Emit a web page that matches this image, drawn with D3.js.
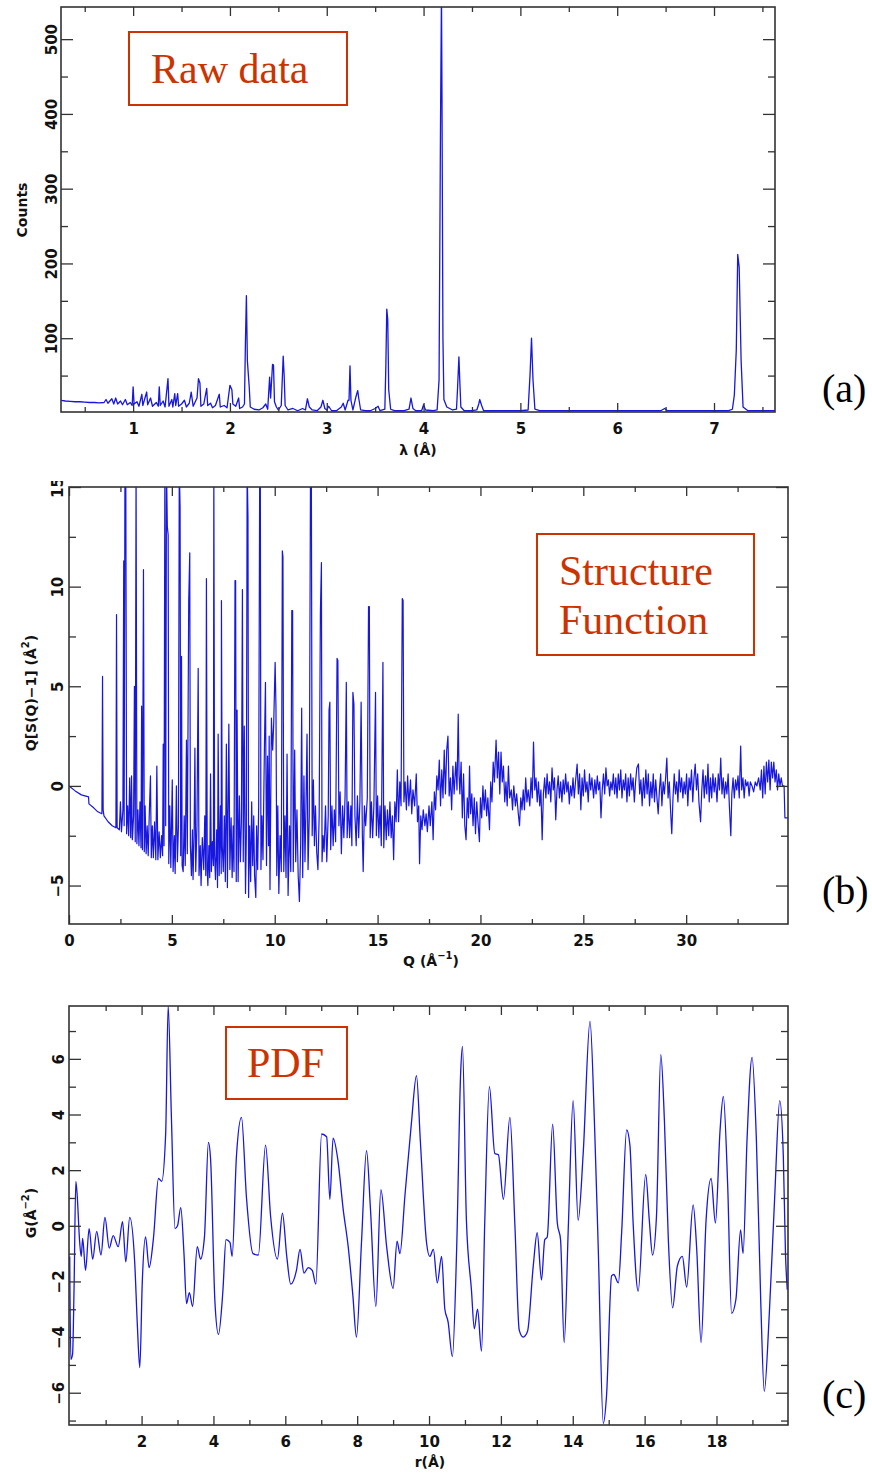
<!DOCTYPE html>
<html>
<head>
<meta charset="utf-8">
<script src="https://cdn.jsdelivr.net/npm/d3@7"></script>
<style>
  body { margin: 0; background: #fff; }
  svg { display: block; }
</style>
</head>
<body>
<svg width="872" height="1473"></svg>
<script>
// (a) raw counts vs wavelength, [lambda, counts]
var rawData = [
  [0.25,17],[0.3,16],[0.35,15.5],[0.4,15],[0.45,15],[0.5,14.5],[0.55,14],[0.6,14],[0.65,13.5],[0.7,14],
  [0.72,18],[0.74,13],[0.78,19],[0.8,12],[0.82,20],[0.84,12],[0.87,16],[0.89,11],[0.92,18],[0.94,11],
  [0.97,14],[0.99,10],[1.0,35],[1.01,12],[1.04,15],[1.06,9],[1.09,25],[1.1,10],[1.14,28],[1.15,11],
  [1.18,20],[1.2,9],[1.24,14],[1.26,9],[1.27,35],[1.28,10],[1.31,16],[1.33,8],[1.36,46],[1.37,9],
  [1.4,18],[1.41,8],[1.43,26],[1.44,10],[1.46,26],[1.47,9],[1.5,12],[1.53,17],[1.55,8],[1.58,13],
  [1.6,28],[1.62,9],[1.66,20],[1.675,46],[1.69,40],[1.7,9],[1.73,12],[1.76,33],[1.77,10],[1.8,13],
  [1.82,7],[1.85,10],[1.89,25],[1.9,8],[1.94,10],[1.97,7],[2.0,37],[2.02,31],[2.03,12],[2.06,9],
  [2.09,20],[2.1,6],[2.13,8],[2.15,12],[2.16,95],[2.17,157],[2.18,70],[2.2,33],[2.21,8],[2.25,5],
  [2.3,4],[2.34,7],[2.37,12],[2.39,5],[2.41,48],[2.42,20],[2.44,65],[2.45,64],[2.46,15],[2.48,8],
  [2.5,4],[2.53,10],[2.55,76],[2.56,50],[2.57,10],[2.6,4],[2.65,6],[2.7,3],[2.75,6],[2.78,4],
  [2.8,19],[2.82,8],[2.85,4],[2.9,3],[2.94,8],[2.96,17],[2.98,6],[3.0,4],[3.02,9],[3.05,3],
  [3.1,3],[3.15,8],[3.17,13],[3.19,4],[3.22,17],[3.23,17],[3.24,63],[3.25,17],[3.27,4],[3.3,21],
  [3.32,30],[3.33,20],[3.35,4],[3.4,3],[3.45,3],[3.5,6],[3.53,9],[3.55,3],[3.6,5],[3.61,60],
  [3.62,139],[3.63,125],[3.64,31],[3.66,5],[3.7,3],[3.75,3],[3.8,3],[3.85,5],[3.87,20],[3.89,6],
  [3.92,3],[3.98,3],[4.0,11],[4.02,4],[4.1,3],[4.14,4],[4.16,44],[4.175,387],[4.185,560],[4.19,426],
  [4.2,100],[4.21,18],[4.24,8],[4.3,4],[4.34,5],[4.35,30],[4.365,75],[4.375,40],[4.385,8],[4.42,3],
  [4.5,3],[4.55,4],[4.57,12],[4.58,18],[4.6,10],[4.62,3],[4.7,3],[4.85,3],[5.0,3],[5.08,4],
  [5.1,52],[5.115,100],[5.13,45],[5.15,5],[5.2,3],[5.5,3],[6.0,3],[6.45,3],[6.49,6],[6.52,3],
  [7.0,3],[7.15,3],[7.19,5],[7.21,24],[7.23,84],[7.245,212],[7.26,195],[7.28,70],[7.3,8],[7.35,3],
  [7.63,3]
];

// (b) Q[S(Q)-1] vs Q, [Q, value]
var sqData = [
  [0,0],[0.3,-0.25],[0.6,-0.45],[0.95,-0.55],[0.97,-0.9],[1.2,-1.1],[1.4,-1.3],[1.6,-1.4],[1.63,5.5],[1.66,-1.2],
  [1.7,-1.5],[1.9,-1.8],[2.1,-2.0],[2.28,-2.1],[2.31,8.6],[2.34,-2.1],[2.45,-2.2],[2.5,-0.8],[2.55,-2.3],[2.62,-1.2],
  [2.66,11.3],[2.68,-2.0],[2.72,16],[2.76,16],[2.8,-2.4],[2.85,-1.0],[2.9,-2.5],[2.95,0.4],[3.0,-2.6],[3.04,0.5],
  [3.08,-2.7],[3.14,-1.5],[3.18,5.0],[3.22,-2.8],[3.26,16],[3.3,-2.9],[3.35,-1.2],[3.4,-3.0],[3.45,-0.8],[3.5,-3.1],
  [3.53,4.0],[3.57,-3.2],[3.62,10.85],[3.66,-3.3],[3.7,-1.0],[3.75,-3.4],[3.8,-2.0],[3.85,-3.5],[3.9,-1.5],[3.96,0.5],
  [4.0,-3.6],[4.05,-2.0],[4.1,-3.6],[4.16,-1.8],[4.22,-3.7],[4.27,1.0],[4.32,-3.7],[4.38,-2.3],[4.44,-3.6],[4.5,-2.5],
  [4.55,-3.5],[4.58,2.1],[4.62,-3.0],[4.66,16],[4.7,-2.0],[4.74,16],[4.78,13],[4.82,12.6],[4.85,-3.9],[4.9,-1.0],
  [4.95,-4.1],[5.02,0.3],[5.06,-4.3],[5.12,-2.5],[5.16,-4.4],[5.22,0],[5.27,-3.8],[5.32,-2.0],[5.36,16],[5.4,14],
  [5.43,-3.5],[5.47,6.5],[5.5,-4.0],[5.55,-4.3],[5.6,-1.5],[5.65,-4.0],[5.71,2.3],[5.75,-3.4],[5.82,9.3],[5.87,11.7],
  [5.9,-3.0],[5.95,-4.5],[6.0,-2.2],[6.03,-4.7],[6.08,-2.5],[6.12,1.9],[6.16,-4.3],[6.22,-2.0],[6.28,5.9],[6.32,-4.5],
  [6.38,-3.0],[6.42,-5.0],[6.48,-2.6],[6.55,-4.2],[6.6,-1.5],[6.65,-4.5],[6.68,10.4],[6.72,-4.2],[6.75,-5.0],[6.8,-3.0],
  [6.84,-4.6],[6.88,0.6],[6.92,-4.3],[6.97,-2.8],[7.02,-4.0],[7.04,16],[7.08,-3.5],[7.12,-4.7],[7.18,-2.2],[7.22,-5.1],
  [7.25,2.6],[7.3,-4.5],[7.36,-1.0],[7.4,-4.4],[7.41,9.3],[7.45,-3.0],[7.5,-4.3],[7.55,-1.5],[7.6,-4.8],[7.65,2.1],
  [7.7,-5.1],[7.77,3.1],[7.82,-4.2],[7.88,-1.6],[7.93,-4.6],[7.98,-2.0],[8.02,-4.3],[8.07,10.3],[8.1,10.3],[8.13,-4.8],
  [8.17,3.8],[8.22,-4.8],[8.28,-0.5],[8.33,-3.8],[8.38,-1.8],[8.43,9.85],[8.47,-3.8],[8.52,3.0],[8.58,-5.4],[8.62,-2.5],
  [8.66,16],[8.7,13.5],[8.73,-5.6],[8.78,-2.0],[8.83,-4.8],[8.88,-0.8],[8.93,-4.0],[8.98,-1.5],[9.02,-4.5],[9.08,-5.6],
  [9.12,-2.0],[9.17,-4.2],[9.22,-1.0],[9.27,16],[9.3,16],[9.33,-4.2],[9.38,-1.5],[9.43,-3.7],[9.5,2.0],[9.55,5.2],
  [9.6,-4.0],[9.65,1.5],[9.7,-3.0],[9.73,2.5],[9.77,-5.2],[9.84,3.4],[9.9,1.8],[9.95,3.1],[10.02,6.2],[10.06,4.0],
  [10.1,-4.5],[10.15,-1.0],[10.2,-5.4],[10.26,-2.5],[10.32,-4.3],[10.37,11.8],[10.4,11.5],[10.44,-4.3],[10.5,-1.5],[10.55,-4.6],
  [10.6,1.6],[10.65,-5.5],[10.72,-2.0],[10.78,-4.3],[10.83,8.8],[10.87,8.8],[10.9,-4.3],[10.97,1.8],[11.02,-3.8],[11.08,-1.2],
  [11.14,-4.5],[11.2,-5.8],[11.26,-3.0],[11.31,3.9],[11.36,-4.6],[11.42,0.5],[11.47,-3.8],[11.52,-1.0],[11.57,2.6],[11.62,-4.2],
  [11.68,-1.5],[11.74,16],[11.78,16],[11.82,-2.5],[11.88,0.3],[11.93,-3.0],[11.98,-1.0],[12.04,-3.3],[12.1,-4.2],[12.16,-1.5],
  [12.22,8.7],[12.27,11.2],[12.3,-3.8],[12.35,-2.5],[12.4,-3.3],[12.47,-1.0],[12.53,-3.8],[12.6,-1.5],[12.64,3.8],[12.68,4.2],
  [12.72,-3.2],[12.78,-1.0],[12.84,-3.0],[12.9,-1.2],[12.96,-2.8],[13.03,6.4],[13.07,6.3],[13.12,-2.0],[13.18,-0.3],[13.24,-3.4],
  [13.3,-1.0],[13.36,-2.6],[13.42,-0.5],[13.48,5.2],[13.52,-2.6],[13.58,-0.8],[13.64,-2.6],[13.7,-1.0],[13.75,-3.0],[13.8,4.7],
  [13.85,4.1],[13.9,-1.5],[13.96,-3.0],[14.02,-0.5],[14.08,-2.6],[14.14,-0.8],[14.2,4.2],[14.26,-2.5],[14.3,-4.3],[14.36,-1.0],
  [14.42,-2.0],[14.5,-0.6],[14.56,9.0],[14.6,9.0],[14.64,-2.6],[14.7,-0.8],[14.76,-2.6],[14.82,-1.0],[14.9,4.7],[14.94,-2.5],
  [15.0,-0.5],[15.06,-2.6],[15.12,-1.0],[15.18,-3.0],[15.26,6.2],[15.3,-3.1],[15.36,-1.0],[15.42,-2.7],[15.48,-1.2],[15.54,-2.5],
  [15.6,-0.8],[15.66,-2.6],[15.72,-1.5],[15.78,-3.7],[15.84,-0.8],[15.9,-1.8],[15.96,0.8],[16.02,-1.8],[16.08,0.2],[16.14,-1.0],
  [16.2,9.4],[16.24,9.3],[16.28,-0.8],[16.34,0.2],[16.4,-1.2],[16.46,0.5],[16.52,-1.0],[16.6,0.3],[16.66,-1.4],[16.72,-0.2],
  [16.8,-1.0],[16.88,0.6],[16.94,-1.8],[17.0,-1.0],[17.04,-3.9],[17.1,-1.5],[17.16,-2.2],[17.22,-1.2],[17.3,-2.0],[17.36,-1.4],
  [17.42,-2.3],[17.5,-1.0],[17.56,-2.0],[17.64,-0.8],[17.7,-2.7],[17.76,-0.3],[17.82,-1.2],[17.88,0.5],[17.94,-0.2],[18.0,1.3],
  [18.06,-1.0],[18.12,0.8],[18.18,-0.6],[18.24,1.8],[18.3,-0.4],[18.36,1.8],[18.42,2.5],[18.48,-0.5],[18.54,0.4],[18.6,-1.2],
  [18.66,1.0],[18.72,-0.4],[18.8,1.2],[18.86,-0.2],[18.92,3.6],[18.96,0.6],[19.0,-0.4],[19.06,1.2],[19.12,-1.6],[19.18,0.6],
  [19.24,-2.0],[19.3,-2.7],[19.36,-0.6],[19.42,-1.6],[19.47,1.0],[19.52,-1.4],[19.58,-0.4],[19.64,-2.0],[19.7,-0.6],[19.76,-2.4],
  [19.82,-0.8],[19.88,-1.8],[19.95,-2.8],[20.0,-0.6],[20.06,-1.6],[20.12,0.0],[20.18,-1.2],[20.24,-0.2],[20.3,-1.5],[20.36,-0.6],
  [20.44,-2.2],[20.5,0.2],[20.56,-0.8],[20.62,1.2],[20.68,0.2],[20.76,2.3],[20.82,0.4],[20.88,1.7],[20.94,-0.4],[21.0,1.7],
  [21.06,0.2],[21.12,1.0],[21.18,-0.8],[21.24,0.2],[21.3,-1.0],[21.36,1.0],[21.42,-0.6],[21.5,-0.2],[21.56,-1.2],[21.62,0.0],
  [21.7,-1.0],[21.76,-0.4],[21.84,-1.4],[21.9,-2.0],[21.96,-0.6],[22.02,-1.2],[22.08,-0.2],[22.14,-1.2],[22.2,0.4],[22.26,-0.8],
  [22.32,-0.2],[22.4,-1.0],[22.46,0.4],[22.52,-0.6],[22.58,2.2],[22.64,-0.2],[22.7,0.4],[22.76,-0.8],[22.82,0.2],[22.88,-1.0],
  [22.94,-0.2],[23.0,-2.7],[23.06,-0.4],[23.12,0.4],[23.18,-0.6],[23.24,0.6],[23.3,-0.4],[23.36,0.2],[23.42,-0.8],[23.48,0.9],
  [23.54,-0.2],[23.6,0.4],[23.66,-1.7],[23.72,-0.2],[23.78,0.5],[23.84,-0.6],[23.9,0.2],[23.96,-0.8],[24.02,0.3],[24.08,-0.4],
  [24.14,0.6],[24.2,-0.3],[24.26,0.2],[24.32,-0.9],[24.38,0.0],[24.44,-0.5],[24.5,0.4],[24.56,-0.6],[24.62,0.2],[24.7,1.1],
  [24.76,-0.4],[24.82,0.6],[24.88,-1.2],[24.94,0.4],[25.0,-0.5],[25.06,0.8],[25.12,-0.3],[25.18,0.2],[25.24,-0.8],[25.3,0.6],
  [25.36,-0.2],[25.42,0.4],[25.5,-0.6],[25.56,0.3],[25.62,-0.4],[25.68,0.5],[25.74,-0.2],[25.8,0.2],[25.86,-1.6],[25.92,-0.2],
  [25.98,0.6],[26.04,-0.4],[26.1,0.9],[26.16,0.0],[26.22,0.3],[26.28,-0.5],[26.34,0.2],[26.4,-0.2],[26.46,0.6],[26.52,-0.4],
  [26.58,0.4],[26.64,-0.6],[26.7,0.6],[26.76,-0.2],[26.82,0.8],[26.88,-0.6],[26.94,0.3],[27.0,-0.2],[27.06,0.6],[27.12,-0.8],
  [27.18,0.4],[27.24,-0.5],[27.3,0.6],[27.36,-0.2],[27.42,0.4],[27.48,-0.8],[27.54,0.2],[27.6,0.9],[27.68,1.1],[27.74,-0.4],
  [27.8,0.3],[27.86,-1.0],[27.92,0.4],[27.98,-0.6],[28.04,0.8],[28.1,-0.4],[28.16,0.6],[28.22,-1.0],[28.28,0.2],[28.34,-0.6],
  [28.4,0.6],[28.46,-0.8],[28.52,0.3],[28.58,-0.6],[28.64,-1.4],[28.7,-0.2],[28.76,0.6],[28.82,-1.0],[28.88,0.2],[28.94,-0.4],
  [29.0,0.4],[29.06,1.4],[29.12,-0.6],[29.18,0.2],[29.24,-1.2],[29.3,-2.4],[29.36,-0.6],[29.42,0.6],[29.48,-0.4],[29.54,0.2],
  [29.6,-0.8],[29.66,0.8],[29.72,-0.3],[29.78,0.4],[29.84,-0.6],[29.9,0.2],[29.96,-0.4],[30.02,0.6],[30.08,-1.0],[30.14,0.4],
  [30.2,-0.2],[30.26,0.8],[30.32,-0.8],[30.38,0.4],[30.44,1.1],[30.5,-0.2],[30.56,0.6],[30.62,-0.8],[30.7,-1.8],[30.76,-0.2],
  [30.82,0.8],[30.88,-0.6],[30.94,0.5],[31.0,-0.4],[31.06,1.1],[31.12,-0.8],[31.18,0.4],[31.24,-0.6],[31.3,0.6],[31.36,-0.3],
  [31.42,0.4],[31.5,-0.8],[31.56,0.6],[31.62,-0.2],[31.68,1.4],[31.74,-0.4],[31.8,0.4],[31.86,-0.6],[31.92,0.2],[31.98,-0.4],
  [32.04,0.6],[32.1,-1.0],[32.17,-2.5],[32.22,-0.4],[32.28,0.4],[32.34,-0.6],[32.4,0.3],[32.46,-0.2],[32.52,0.5],[32.58,-0.6],
  [32.65,2.0],[32.7,-0.2],[32.76,0.4],[32.82,-0.6],[32.88,0.3],[32.94,0.0],[33.0,0.2],[33.06,-0.5],[33.12,0.2],[33.2,0.0],
  [33.28,-0.3],[33.36,0.2],[33.44,0.0],[33.52,0.4],[33.6,-0.2],[33.66,0.8],[33.72,-0.6],[33.78,1.0],[33.84,-0.4],[33.9,1.2],
  [33.96,0.2],[34.02,1.3],[34.08,-0.2],[34.14,1.2],[34.2,0.4],[34.26,1.2],[34.32,0.2],[34.38,0.8],[34.44,-0.2],[34.5,0.6],
  [34.56,0.0],[34.62,0.4],[34.68,0.0],[34.76,0.0],[34.8,-1.6],[34.95,-1.6]
];

// (c) G(r) vs r, [r, G]
var pdfData = [
  [0,-1.1],[0.03,-4.8],[0.08,-4.6],[0.12,-2.3],[0.17,1.6],[0.21,1.05],[0.27,-0.45],[0.32,-1.1],[0.36,-0.45],[0.44,-1.6],
  [0.54,-0.1],[0.64,-1.2],[0.75,-0.2],[0.87,-1.05],[0.98,0.3],[1.1,-0.8],[1.21,-0.35],[1.35,-0.75],[1.47,0.15],[1.56,-1.3],
  [1.67,0.3],[1.81,-1.35],[1.88,-3.5],[1.95,-5.1],[2.02,-2.0],[2.11,-0.4],[2.21,-1.5],[2.33,-0.45],[2.47,1.7],[2.56,1.6],
  [2.67,3.3],[2.74,7.9],[2.83,3.9],[2.93,-0.1],[3.0,0.0],[3.09,0.65],[3.18,-1.0],[3.25,-2.8],[3.33,-2.4],[3.42,-2.9],
  [3.55,-0.75],[3.64,-1.2],[3.75,-0.4],[3.86,3.0],[3.92,2.4],[4.04,-2.7],[4.14,-3.9],[4.26,-2.4],[4.35,-0.5],[4.46,-0.6],
  [4.52,-1.1],[4.64,2.5],[4.78,3.9],[4.92,1.0],[5.1,-1.0],[5.25,-1.05],[5.45,2.9],[5.59,0.35],[5.78,-1.2],[5.92,0.45],
  [6.04,-1.1],[6.15,-2.1],[6.31,-1.6],[6.41,-0.85],[6.52,-1.7],[6.64,-1.5],[6.75,-1.6],[6.85,-2.1],[7.01,3.3],[7.15,3.2],
  [7.24,0.95],[7.33,3.15],[7.47,2.3],[7.61,0.6],[7.75,-0.75],[7.88,-2.5],[7.98,-4.0],[8.12,-0.6],[8.26,2.7],[8.37,0.6],
  [8.52,-2.9],[8.66,1.3],[8.82,-0.75],[9.0,-2.25],[9.11,-0.55],[9.19,-1.0],[9.33,1.1],[9.51,3.7],[9.65,5.4],[9.76,3.0],
  [9.93,-0.6],[10.02,-1.1],[10.12,-0.85],[10.23,-2.05],[10.35,-1.1],[10.44,-3.0],[10.53,-3.45],[10.65,-4.7],[10.77,-0.75],[10.88,5.5],
  [10.93,6.45],[11.04,0.2],[11.18,-2.3],[11.26,-3.7],[11.35,-3.0],[11.46,-4.5],[11.55,0.1],[11.68,5.0],[11.83,2.6],[11.93,2.55],
  [12.07,0.95],[12.25,3.9],[12.39,0],[12.51,-3.75],[12.62,-4.0],[12.74,-3.8],[12.9,-1.45],[13.01,-0.25],[13.13,-1.95],[13.22,-0.5],
  [13.29,-0.4],[13.44,3.65],[13.57,0.1],[13.66,-0.5],[13.76,-4.2],[13.88,0.1],[14.01,4.5],[14.15,0.2],[14.29,2.6],[14.48,7.35],
  [14.61,3.45],[14.71,-0.85],[14.85,-7.1],[14.94,-6.1],[15.08,-1.8],[15.14,-1.75],[15.27,-2.05],[15.36,-0.25],[15.5,3.45],[15.59,2.9],
  [15.68,0.1],[15.82,-2.35],[16.03,1.85],[16.13,0.2],[16.22,-1.05],[16.33,0.35],[16.45,6.15],[16.55,3.8],[16.66,-0.5],[16.78,-2.95],
  [16.91,-1.45],[17.05,-1.1],[17.17,-2.2],[17.35,0.75],[17.45,-0.85],[17.57,-4.2],[17.71,0.2],[17.85,1.7],[17.97,0.1],[18.1,3.45],
  [18.19,4.65],[18.31,1.5],[18.42,-3.15],[18.54,-2.65],[18.67,-0.15],[18.74,-1.0],[18.85,3.1],[18.99,6.05],[19.11,3.1],[19.23,-2.65],
  [19.33,-5.95],[19.47,-3.15],[19.62,1.05],[19.76,4.5],[19.86,2.5],[19.92,-1.0],[19.97,-2.3]
];

// tick values
var rawXMajor = [1, 2, 3, 4, 5, 6, 7];
var rawXMinor = [0.5, 1.5, 2.5, 3.5, 4.5, 5.5, 6.5, 7.5];
var rawYMajor = [100, 200, 300, 400, 500];
var rawYMinor = [50, 150, 250, 350, 450];
var sqXMajor = [0, 5, 10, 15, 20, 25, 30];
var sqXMinor = [2.5, 7.5, 12.5, 17.5, 22.5, 27.5, 32.5];
var sqYMajor = [-5, 0, 5, 10, 15];
var sqYMinor = [-2.5, 2.5, 7.5, 12.5];
var pdfXMajor = [2, 4, 6, 8, 10, 12, 14, 16, 18];
var pdfXMinor = [1, 3, 5, 7, 9, 11, 13, 15, 17, 19];
var pdfYMajor = [-6, -4, -2, 0, 2, 4, 6];
var pdfYMinor = [-7, -5, -3, -1, 1, 3, 5, 7];

var svg = d3.select("svg");
var lineColor = "#1717dd",
    noteColor = "#cc3300",
    frameColor = "#333",
    tickFont = "'DejaVu Sans', sans-serif";

svg.append("rect").attr("width", 872).attr("height", 1473).attr("fill", "white");

function drawPanel(p) {
    var x = d3.scaleLinear().domain(p.xDomain).range([p.left, p.right]);
    var y = d3.scaleLinear().domain(p.yDomain).range([p.bottom, p.top]);

    svg.append("clipPath").attr("id", p.id + "-clip")
        .append("rect")
        .attr("x", p.left).attr("y", p.top)
        .attr("width", p.right - p.left).attr("height", p.bottom - p.top);

    var line = d3.line()
        .x(function (d) { return x(d[0]); })
        .y(function (d) { return y(d[1]); })
        .curve(p.curve || d3.curveLinear);

    svg.append("path")
        .datum(p.data)
        .attr("clip-path", "url(#" + p.id + "-clip)")
        .attr("fill", "none")
        .attr("stroke", lineColor)
        .attr("stroke-width", p.lineWidth || 1.2)
        .attr("stroke-linejoin", "round")
        .attr("d", line);

    // inward ticks on all four sides
    function ticks(axis, tr, vals, size) {
        var g = svg.append("g")
            .attr("transform", tr)
            .attr("color", frameColor)
            .call(axis.tickValues(vals).tickSize(-size).tickFormat(""));
        g.select(".domain").remove();
        g.selectAll("line").attr("stroke-width", 1.3);
        return g;
    }
    ticks(d3.axisBottom(x), "translate(0," + p.bottom + ")", p.xMinor, 5);
    ticks(d3.axisTop(x), "translate(0," + p.top + ")", p.xMinor, 5);
    ticks(d3.axisTop(x), "translate(0," + p.top + ")", p.xMajor, 9);
    ticks(d3.axisLeft(y), "translate(" + p.left + ",0)", p.yMinor, 7);
    ticks(d3.axisRight(y), "translate(" + p.right + ",0)", p.yMinor, 7);
    ticks(d3.axisRight(y), "translate(" + p.right + ",0)", p.yMajor, 12);

    var gx = ticks(d3.axisBottom(x), "translate(0," + p.bottom + ")", p.xMajor, 9);
    gx.selectAll(".tick").append("text")
        .attr("y", 22)
        .attr("text-anchor", "middle")
        .attr("fill", "#111")
        .attr("font-family", tickFont)
        .attr("font-weight", "bold")
        .attr("font-size", 15)
        .text(function (d) { return d3.format("d")(d); });

    var gy = ticks(d3.axisLeft(y), "translate(" + p.left + ",0)", p.yMajor, 12);
    gy.selectAll(".tick").append("text")
        .attr("transform", "rotate(-90)")
        .attr("x", 0)
        .attr("y", -p.yLabelGap)
        .attr("text-anchor", "middle")
        .attr("fill", "#111")
        .attr("font-family", tickFont)
        .attr("font-weight", "bold")
        .attr("font-size", 15)
        .text(function (d) { return d3.format("d")(d).replace("-", "\u2212"); });

    svg.append("rect")
        .attr("x", p.left).attr("y", p.top)
        .attr("width", p.right - p.left).attr("height", p.bottom - p.top)
        .attr("fill", "none")
        .attr("stroke", frameColor)
        .attr("stroke-width", 1.6);

    // axis titles
    var xt = svg.append("text")
        .attr("x", p.xTitle[0]).attr("y", p.xTitle[1])
        .attr("text-anchor", "middle")
        .attr("font-family", tickFont).attr("font-weight", "bold").attr("font-size", 14)
        .attr("fill", "#111");
    p.xTitleText(xt);

    var yt = svg.append("text")
        .attr("transform", "translate(" + p.yTitle[0] + "," + p.yTitle[1] + ") rotate(-90)")
        .attr("text-anchor", "middle")
        .attr("font-family", tickFont).attr("font-weight", "bold").attr("font-size", 14)
        .attr("fill", "#111");
    p.yTitleText(yt);

    // annotation box
    svg.append("rect")
        .attr("x", p.note.x).attr("y", p.note.y)
        .attr("width", p.note.w).attr("height", p.note.h)
        .attr("fill", "white")
        .attr("stroke", noteColor)
        .attr("stroke-width", 2);
    p.note.lines.forEach(function (t, i) {
        svg.append("text")
            .attr("x", p.note.tx).attr("y", p.note.ty + i * 49)
            .attr("font-family", "'Liberation Serif', 'Times New Roman', serif")
            .attr("font-size", 42)
            .attr("fill", noteColor)
            .text(t);
    });

    svg.append("text")
        .attr("x", 822).attr("y", p.tagY)
        .attr("font-family", "'Liberation Serif', 'Times New Roman', serif")
        .attr("font-size", 40)
        .attr("fill", "#000")
        .text(p.tag);
}

function withSup(base, sup, tail) {
    return function (t) {
        t.append("tspan").text(base);
        t.append("tspan").attr("dy", -7).attr("font-size", 10).text(sup);
        t.append("tspan").attr("dy", 7).text(tail);
    };
}

drawPanel({
    id: "raw", left: 61, right: 775, top: 7, bottom: 412,
    xDomain: [0.255, 7.63], yDomain: [1.3, 543],
    data: rawData, lineWidth: 1.3,
    xMajor: rawXMajor, xMinor: rawXMinor, yMajor: rawYMajor, yMinor: rawYMinor,
    yLabelGap: 4,
    xTitle: [418, 455], xTitleText: function (t) { t.text("\u03bb (\u00c5)"); },
    yTitle: [27, 210], yTitleText: function (t) { t.text("Counts"); },
    note: { x: 129, y: 32, w: 218, h: 73, tx: 151, ty: 83, lines: ["Raw data"] },
    tag: "(a)", tagY: 402
});

drawPanel({
    id: "sq", left: 69, right: 788, top: 487, bottom: 924,
    xDomain: [0, 34.95], yDomain: [-6.93, 15],
    data: sqData, lineWidth: 1.2,
    xMajor: sqXMajor, xMinor: sqXMinor, yMajor: sqYMajor, yMinor: sqYMinor,
    yLabelGap: 6,
    xTitle: [431, 966], xTitleText: withSup("Q (\u00c5", "\u22121", ")"),
    yTitle: [36, 693], yTitleText: withSup("Q[S(Q)\u22121] (\u00c5", "2", ")"),
    note: { x: 537, y: 534, w: 217, h: 121, tx: 559, ty: 585, lines: ["Structure", "Function"] },
    tag: "(b)", tagY: 904
});

drawPanel({
    id: "pdf", left: 69, right: 788, top: 1006, bottom: 1425,
    xDomain: [-0.02, 19.99], yDomain: [-7.16, 7.9],
    data: pdfData, lineWidth: 1.3, curve: d3.curveMonotoneX,
    xMajor: pdfXMajor, xMinor: pdfXMinor, yMajor: pdfYMajor, yMinor: pdfYMinor,
    yLabelGap: 5,
    xTitle: [430, 1467], xTitleText: function (t) { t.text("r(\u00c5)"); },
    yTitle: [36, 1213], yTitleText: withSup("G(\u00c5", "\u22122", ")"),
    note: { x: 226, y: 1027, w: 121, h: 72, tx: 247, ty: 1077, lines: ["PDF"] },
    tag: "(c)", tagY: 1408
});

// the top "15" label of (b) is cut at the frame in the reference
svg.append("rect").attr("x", 40).attr("y", 462).attr("width", 28).attr("height", 19).attr("fill", "white");
</script>
</body>
</html>
